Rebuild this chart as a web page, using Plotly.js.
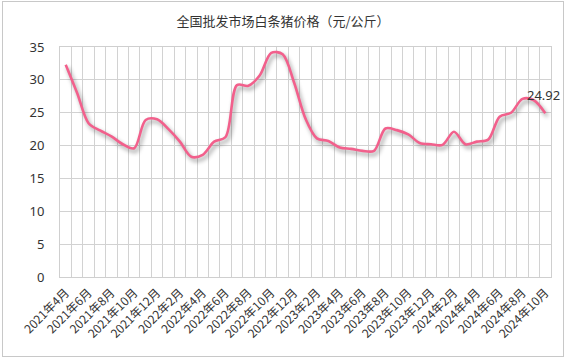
<!DOCTYPE html>
<html>
<head>
<meta charset="utf-8">
<script src="https://cdn.plot.ly/plotly-3.0.1.min.js"></script>
<style>
  html, body { margin: 0; padding: 0; background: #fff; }
  #frame { position: absolute; left: 2px; top: 1px; width: 560px; height: 354px; border: 1px solid #c8c8c8; pointer-events: none; z-index: 5; }
  #chart { position: absolute; left: 0; top: 0; width: 566px; height: 358px; }
  #chart .scatterlayer .trace path.js-line { filter: drop-shadow(2px 3px 2px rgba(0,0,0,0.4)); }
</style>
</head>
<body>
<div id="chart"></div>
<div id="frame"></div>
<script>
const months = [
  "2021年4月","2021年5月","2021年6月","2021年7月","2021年8月","2021年9月","2021年10月","2021年11月","2021年12月",
  "2022年1月","2022年2月","2022年3月","2022年4月","2022年5月","2022年6月","2022年7月","2022年8月","2022年9月","2022年10月","2022年11月","2022年12月",
  "2023年1月","2023年2月","2023年3月","2023年4月","2023年5月","2023年6月","2023年7月","2023年8月","2023年9月","2023年10月","2023年11月","2023年12月",
  "2024年1月","2024年2月","2024年3月","2024年4月","2024年5月","2024年6月","2024年7月","2024年8月","2024年9月","2024年10月"
];
const prices = [
  32.3, 28.0, 23.4, 22.3, 21.4, 20.2, 19.6, 23.9, 24.0,
  22.5, 20.6, 18.3, 18.6, 20.6, 21.3, 29.2, 29.1, 30.7, 34.1, 33.9, 29.6,
  24.1, 21.1, 20.7, 19.7, 19.5, 19.2, 19.2, 22.6, 22.35, 21.7, 20.4, 20.2,
  20.1, 22.1, 20.2, 20.6, 20.9, 24.4, 25.0, 27.1, 26.9, 24.92
];
const chartTitle = "全国批发市场白条猪价格（元/公斤）";
const yTicks = [0, 5, 10, 15, 20, 25, 30, 35];

const idx = months.map((m, i) => i);
const labelIdx = idx.filter(i => i % 2 === 0);
const labelText = labelIdx.map(i => months[i]);
const last = months.length - 1;

const trace = {
  x: idx, y: prices, type: "scatter", mode: "lines",
  line: { color: "#f2608c", width: 2.6, shape: "spline", smoothing: 0.9 },
  hoverinfo: "skip"
};

const layout = {
  width: 566, height: 358,
  margin: { l: 60, r: 15, t: 47, b: 81 },
  paper_bgcolor: "#fff", plot_bgcolor: "#fff",
  showlegend: false,
  font: { family: "'Noto Sans', 'Noto Sans CJK SC', sans-serif", color: "#333", size: 12 },
  title: {
    text: chartTitle,
    font: { family: "'Noto Sans CJK SC', sans-serif", size: 13, color: "#333" },
    x: 0.5, xref: "container", xanchor: "center",
    y: 1 - 21 / 358, yref: "container", yanchor: "middle"
  },
  xaxis: {
    range: [-0.5, last + 0.5],
    tickmode: "array", tickvals: labelIdx, ticktext: labelText,
    tickangle: -45, showgrid: false, zeroline: false,
    ticks: "", ticklabelstandoff: 3,
    tickfont: { family: "'Noto Sans CJK SC', sans-serif", size: 12, color: "#333" },
    showline: true, mirror: true, linecolor: "#cfcfcf", linewidth: 1,
    minor: { tick0: -0.5, dtick: 1, showgrid: true, gridcolor: "#d2d2d2", gridwidth: 1, ticks: "" },
    fixedrange: true
  },
  yaxis: {
    range: [0, 35], tickmode: "array", tickvals: yTicks,
    showgrid: true, gridcolor: "#d2d2d2", gridwidth: 1, zeroline: false,
    ticks: "", ticklabelstandoff: 12,
    tickfont: { family: "'Noto Sans', sans-serif", size: 13, color: "#333" },
    showline: true, mirror: true, linecolor: "#cfcfcf", linewidth: 1,
    fixedrange: true
  },
  annotations: [{
    x: last, y: prices[last], xref: "x", yref: "y",
    text: String(prices[last]), showarrow: false,
    xanchor: "center", yanchor: "middle", xshift: -2, yshift: 18,
    font: { family: "'Noto Sans', sans-serif", size: 13, color: "#333" }
  }]
};

Plotly.newPlot("chart", [trace], layout, { displayModeBar: false, staticPlot: true });
</script>
</body>
</html>
